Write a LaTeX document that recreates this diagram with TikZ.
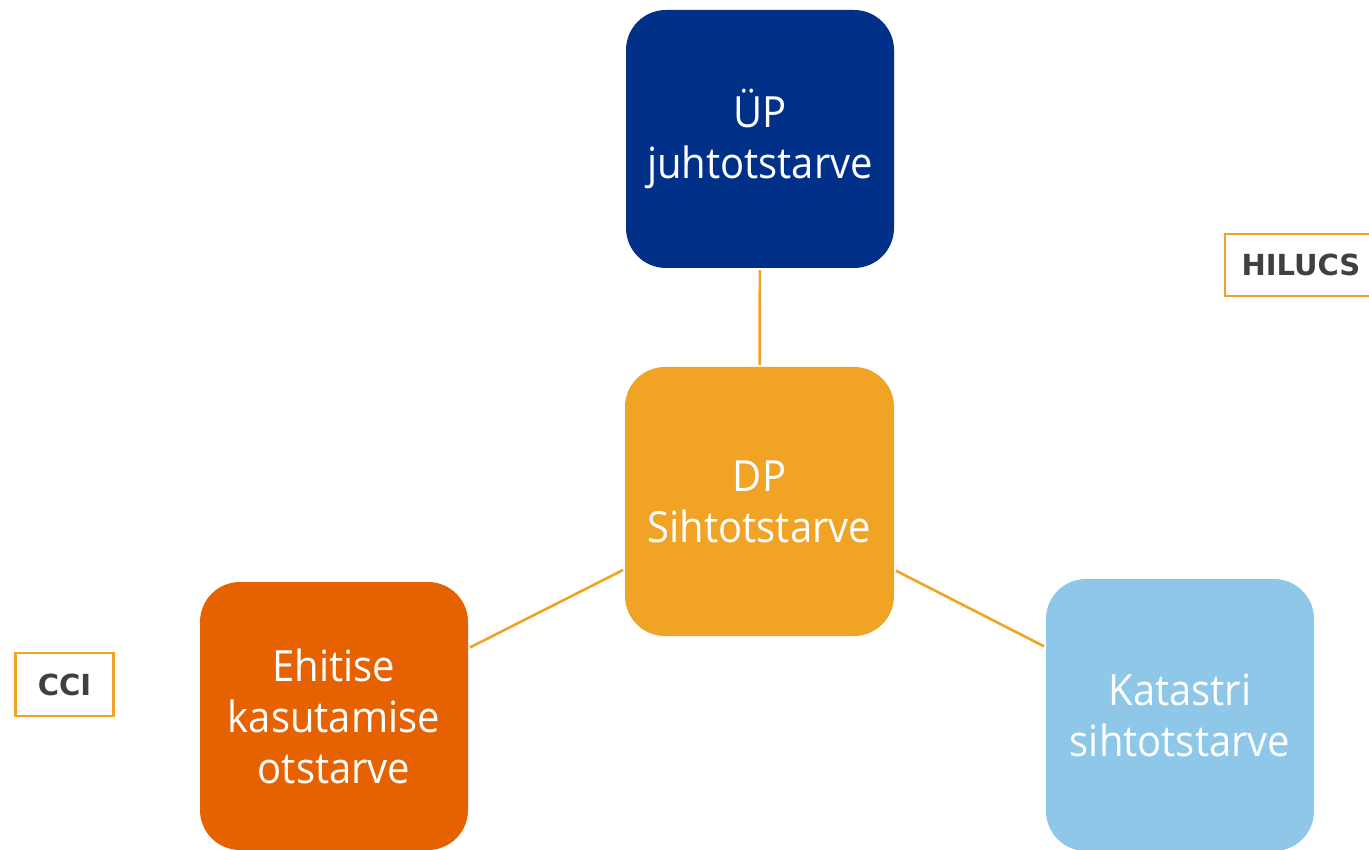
\documentclass[tikz,border=0pt]{standalone}
\usepackage{fontspec}
\newfontfamily\boxfont{Open Sans}[FakeStretch=0.93]
\newfontfamily\tagfont{DejaVu Sans}
\definecolor{cdark}{HTML}{003087}
\definecolor{corange}{HTML}{F0A324}
\definecolor{cred}{HTML}{E66100}
\definecolor{clight}{HTML}{8FC7E8}
\definecolor{ctext}{HTML}{404040}
\begin{document}
\begin{tikzpicture}[x=1pt,y=-1pt,
  card/.style={rounded corners=40pt, minimum width=268pt, minimum height=268pt,
    inner sep=0pt, align=center, text=white,
    font=\boxfont\fontsize{43}{51}\selectfont},
  tagbox/.style={draw=corange, line width=2.8pt, fill=white, text=ctext,
    inner sep=0pt, font=\tagfont\bfseries\fontsize{29}{32}\selectfont},
  conn/.style={draw=corange, line width=2.6pt, shorten <=2pt, shorten >=2pt}]
\useasboundingbox (0,0) rectangle (1369,850);
\node[card, fill=cdark, minimum height=258pt] (up) at (760,139) {ÜP\\juhtotstarve};
\node[card, fill=corange, minimum width=269pt, minimum height=269pt] (dp) at (759.5,501.5) {DP\\Sihtotstarve};
\node[card, fill=cred] (eh) at (334,716) {Ehitise\\kasutamise\\otstarve};
\node[card, fill=clight, minimum height=272pt] (ka) at (1180,715) {Katastri\\sihtotstarve};
\node[tagbox, minimum width=152pt, minimum height=62pt] (hil) at (1301,265) {HILUCS};
\node[tagbox, minimum width=98pt, minimum height=63pt] (cci) at (64.5,684.5) {CCI};
\draw[conn] (up) -- (dp);
\draw[conn] (dp) -- (eh);
\draw[conn] (dp) -- (ka);
\end{tikzpicture}
\end{document}
